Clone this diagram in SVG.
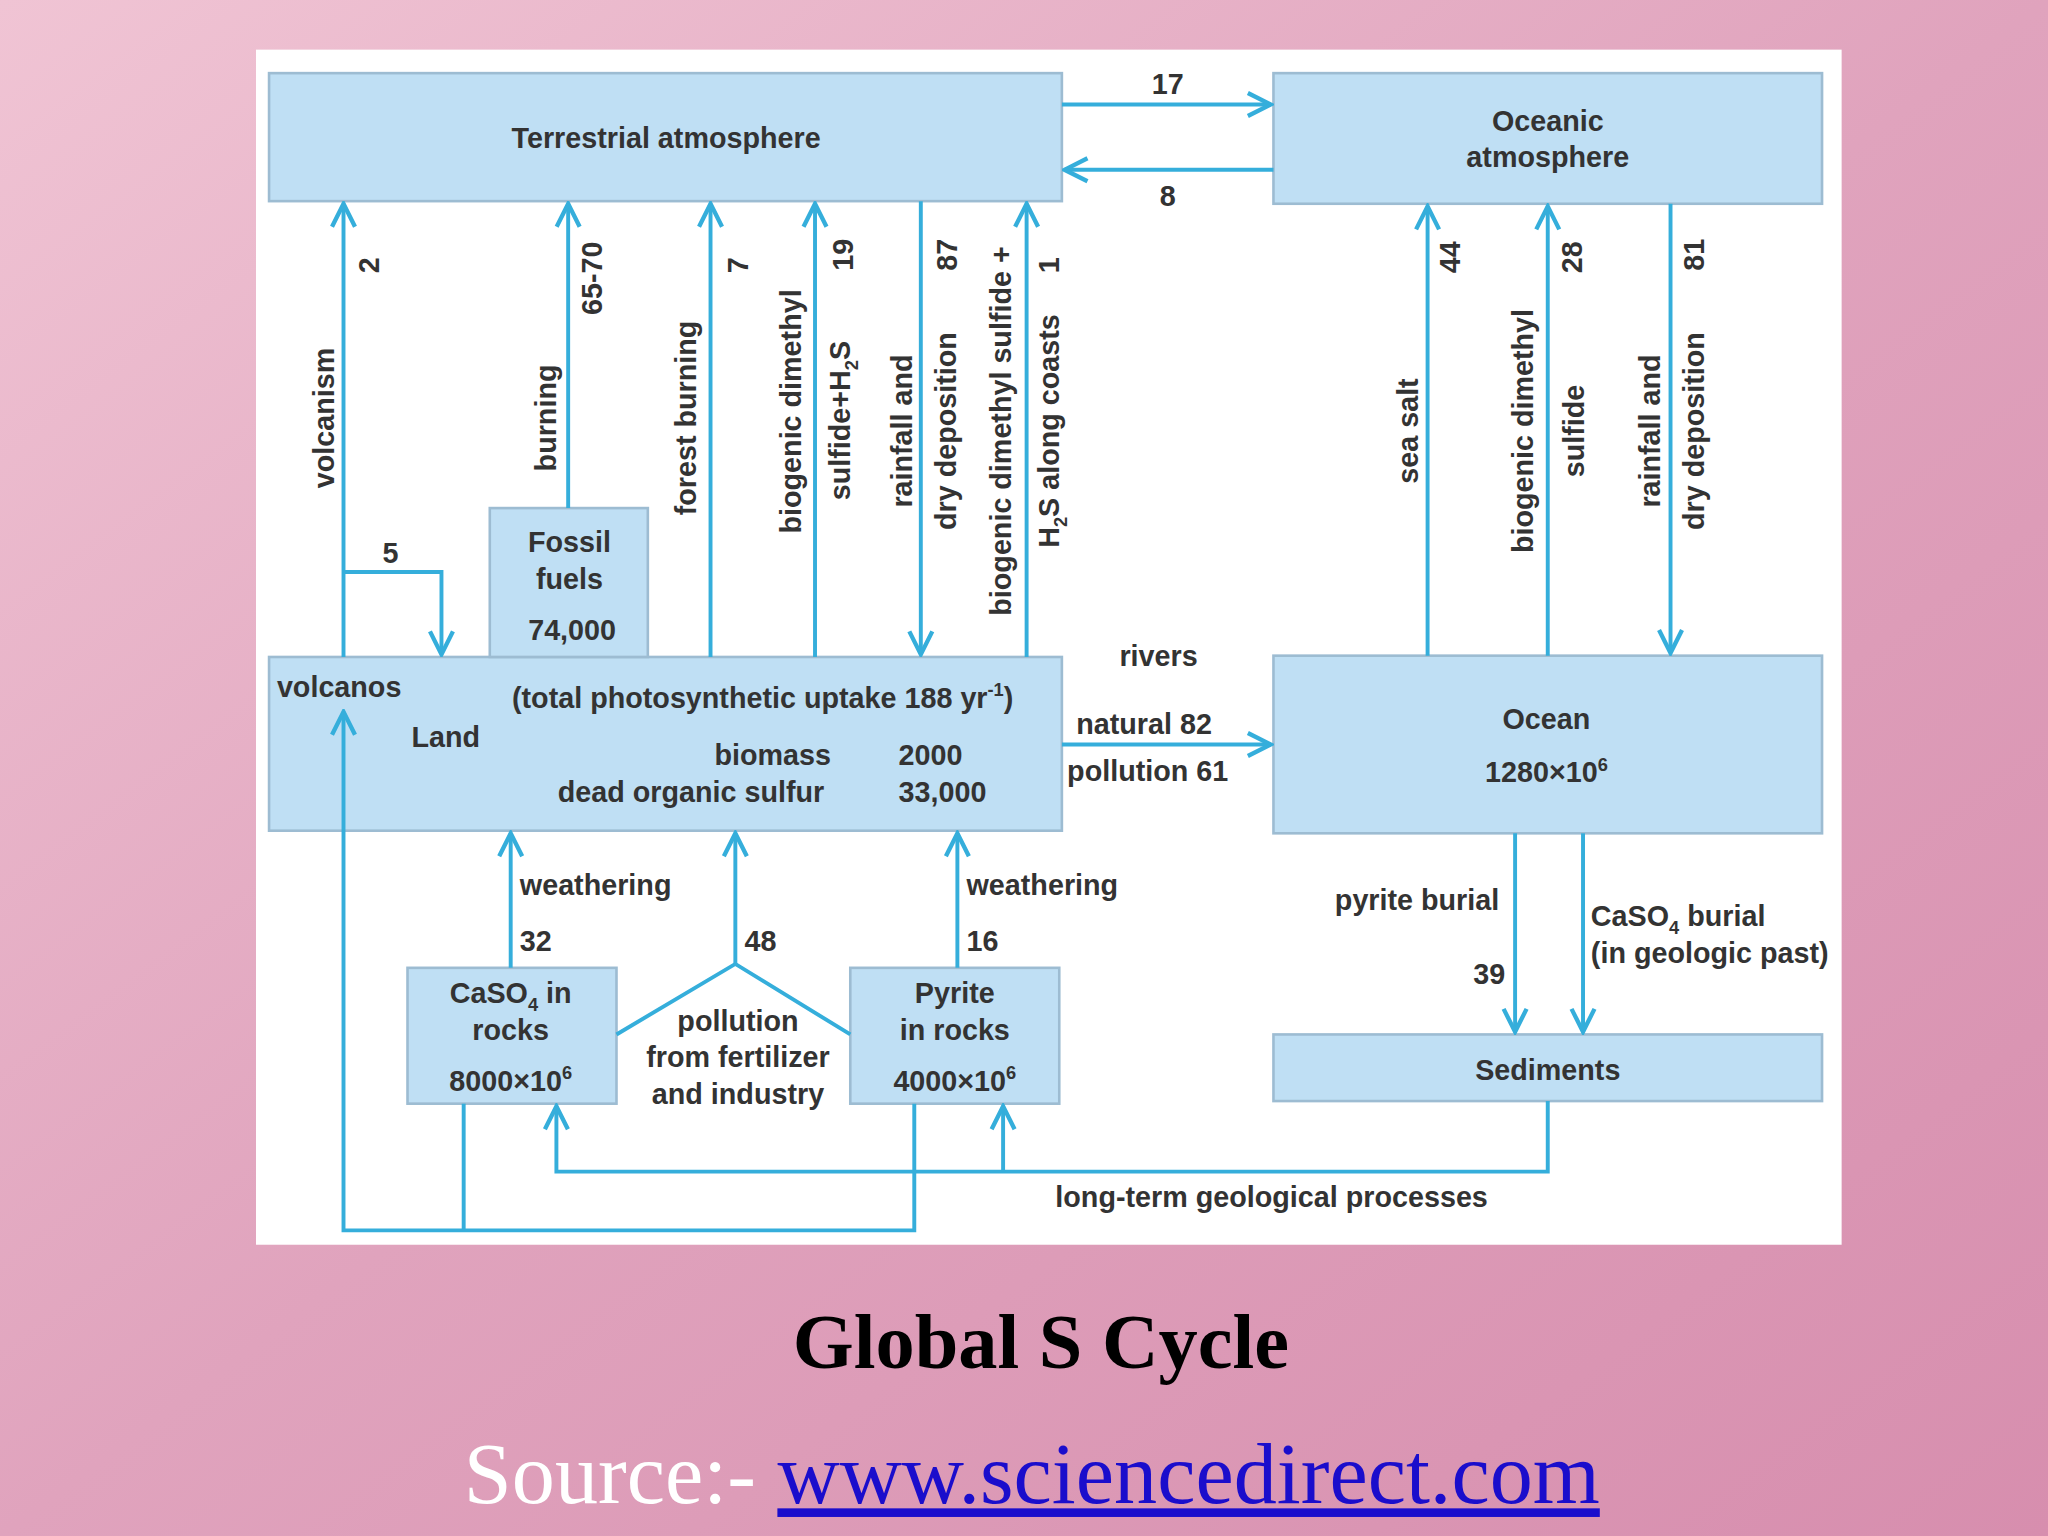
<svg xmlns="http://www.w3.org/2000/svg" width="2048" height="1536" viewBox="0 0 2048 1536">
<defs>
<linearGradient id="bg" x1="0" y1="0" x2="1" y2="1">
<stop offset="0" stop-color="#f0c4d4"/><stop offset="0.5" stop-color="#e0a3bd"/><stop offset="1" stop-color="#d78eae"/>
</linearGradient>
<marker id="ah" viewBox="0 0 20 20" refX="18" refY="10" markerWidth="22" markerHeight="22" markerUnits="userSpaceOnUse" orient="auto">
<path d="M2,2 L18,10 L2,18" fill="none" stroke="#35aedb" stroke-width="3"/>
</marker>
<style>
.bx{fill:#bfdff4;stroke:#9dbcd2;stroke-width:2}
.ln{fill:none;stroke:#35aedb;stroke-width:3}
.ar{fill:none;stroke:#35aedb;stroke-width:3;marker-end:url(#ah)}
text{font-family:"Liberation Sans",Arial,sans-serif;font-weight:bold;font-size:22px;fill:#333}
.c{text-anchor:middle}
</style>
</defs>
<rect width="2048" height="1536" fill="url(#bg)"/>
<g transform="scale(1.30612)">
<rect x="196" y="38" width="1214" height="915" fill="#fff"/>
<g id="terr"><rect class="bx" x="206" y="56" width="607" height="98"/><text class="c" x="510" y="113">Terrestrial atmosphere</text></g>
<g id="ocatm"><rect class="bx" x="975" y="56" width="420" height="100"/><text class="c" x="1185" y="100">Oceanic</text><text class="c" x="1185" y="128">atmosphere</text></g>
<g id="land"><rect class="bx" x="206" y="503" width="607" height="133"/>
<text x="212" y="534">volcanos</text><text x="315" y="572">Land</text>
<text x="392" y="542">(total photosynthetic uptake 188 yr<tspan font-size="14" dy="-9">-1</tspan><tspan dy="9">)</tspan></text>
<text x="547" y="586">biomass</text><text x="688" y="586">2000</text>
<text x="427" y="614">dead organic sulfur</text><text x="688" y="614">33,000</text></g>
<g id="fossil"><rect class="bx" x="375" y="389" width="121" height="114"/><text class="c" x="436" y="423">Fossil</text><text class="c" x="436" y="451">fuels</text><text class="c" x="438" y="490">74,000</text></g>
<g id="ocean"><rect class="bx" x="975" y="502" width="420" height="136"/><text class="c" x="1184" y="558">Ocean</text><text class="c" x="1184" y="599">1280×10<tspan font-size="14" dy="-9">6</tspan></text></g>
<g id="caso4"><rect class="bx" x="312" y="741" width="160" height="104"/><text class="c" x="391" y="768">CaSO<tspan font-size="14" dy="6">4</tspan><tspan dy="-6"> in</tspan></text><text class="c" x="391" y="796">rocks</text><text class="c" x="391" y="835">8000×10<tspan font-size="14" dy="-9">6</tspan></text></g>
<g id="pyrite"><rect class="bx" x="651" y="741" width="160" height="104"/><text class="c" x="731" y="768">Pyrite</text><text class="c" x="731" y="796">in rocks</text><text class="c" x="731" y="835">4000×10<tspan font-size="14" dy="-9">6</tspan></text></g>
<g id="sed"><rect class="bx" x="975" y="792" width="420" height="51"/><text class="c" x="1185" y="827">Sediments</text></g>
<g id="connectors">
<path class="ar" d="M813,80 H973"/><path class="ar" d="M975,130 H815"/>
<path class="ar" d="M263,503 V156"/><path class="ar" d="M263,438 H338 V501"/>
<path class="ar" d="M435,389 V156"/><path class="ar" d="M544,503 V156"/>
<path class="ar" d="M624,503 V156"/><path class="ar" d="M705,154 V501"/>
<path class="ar" d="M786,503 V156"/>
<path class="ar" d="M1093,502 V158"/><path class="ar" d="M1185,502 V158"/><path class="ar" d="M1279,156 V500"/>
<path class="ar" d="M813,570 H973"/>
<path class="ar" d="M391,741 V638"/><path class="ar" d="M733,741 V638"/>
<path class="ln" d="M472,792 L563,738 L651,792"/><path class="ar" d="M563,738 V638"/>
<path class="ar" d="M1160,638 V790"/><path class="ar" d="M1212,638 V790"/>
<path class="ar" d="M1185,843 V897 H426 V847"/><path class="ar" d="M768,897 V847"/>
<path class="ln" d="M355,845 V942"/><path class="ar" d="M700,845 V942 H263 V545"/>
</g>
<g id="labels">
<text x="894" y="72" class="c">17</text><text x="894" y="158" class="c">8</text>
<text transform="translate(256,320) rotate(-90)" class="c">volcanism</text>
<text transform="translate(290,203) rotate(-90)" class="c">2</text>
<text x="299" y="431" class="c">5</text>
<text transform="translate(426,320) rotate(-90)" class="c">burning</text>
<text transform="translate(461,213) rotate(-90)" class="c">65-70</text>
<text transform="translate(533,320) rotate(-90)" class="c">forest burning</text>
<text transform="translate(573,203) rotate(-90)" class="c">7</text>
<text transform="translate(613,315) rotate(-90)" class="c">biogenic dimethyl</text>
<text transform="translate(651,322) rotate(-90)" class="c">sulfide+H<tspan font-size="14" dy="6">2</tspan><tspan dy="-6">S</tspan></text>
<text transform="translate(653,195) rotate(-90)" class="c">19</text>
<text transform="translate(698,330) rotate(-90)" class="c">rainfall and</text>
<text transform="translate(732,330) rotate(-90)" class="c">dry deposition</text>
<text transform="translate(733,195) rotate(-90)" class="c">87</text>
<text transform="translate(774,330) rotate(-90)" class="c">biogenic dimethyl sulfide +</text>
<text transform="translate(811,330) rotate(-90)" class="c">H<tspan font-size="14" dy="6">2</tspan><tspan dy="-6">S along coasts</tspan></text>
<text transform="translate(811,203) rotate(-90)" class="c">1</text>
<text transform="translate(1086,330) rotate(-90)" class="c">sea salt</text>
<text transform="translate(1118,197) rotate(-90)" class="c">44</text>
<text transform="translate(1174,330) rotate(-90)" class="c">biogenic dimethyl</text>
<text transform="translate(1213,330) rotate(-90)" class="c">sulfide</text>
<text transform="translate(1211,197) rotate(-90)" class="c">28</text>
<text transform="translate(1271,330) rotate(-90)" class="c">rainfall and</text>
<text transform="translate(1305,330) rotate(-90)" class="c">dry deposition</text>
<text transform="translate(1305,195) rotate(-90)" class="c">81</text>
<text x="887" y="510" class="c">rivers</text>
<text x="824" y="562">natural  82</text><text x="817" y="598">pollution  61</text>
<text x="398" y="685">weathering</text><text x="398" y="728">32</text>
<text x="570" y="728">48</text>
<text x="565" y="789" class="c">pollution</text><text x="565" y="817" class="c">from fertilizer</text><text x="565" y="845" class="c">and industry</text>
<text x="740" y="685">weathering</text><text x="740" y="728">16</text>
<text x="1022" y="697">pyrite burial</text><text x="1128" y="753">39</text>
<text x="1218" y="709">CaSO<tspan font-size="14" dy="6">4</tspan><tspan dy="-6"> burial</tspan></text>
<text x="1218" y="737">(in geologic past)</text>
<text x="808" y="924">long-term geological processes</text>
</g>
<text x="797" y="1047" text-anchor="middle" style="font-family:'Liberation Serif',serif;font-size:60px;fill:#000">Global S Cycle</text>
<text x="790" y="1151" text-anchor="middle" style="font-family:'Liberation Serif',serif;font-weight:normal;font-size:66px;fill:#fff">Source:- <tspan fill="#1a0dcc" text-decoration="underline">www.sciencedirect.com</tspan></text>
</g>
</svg>
